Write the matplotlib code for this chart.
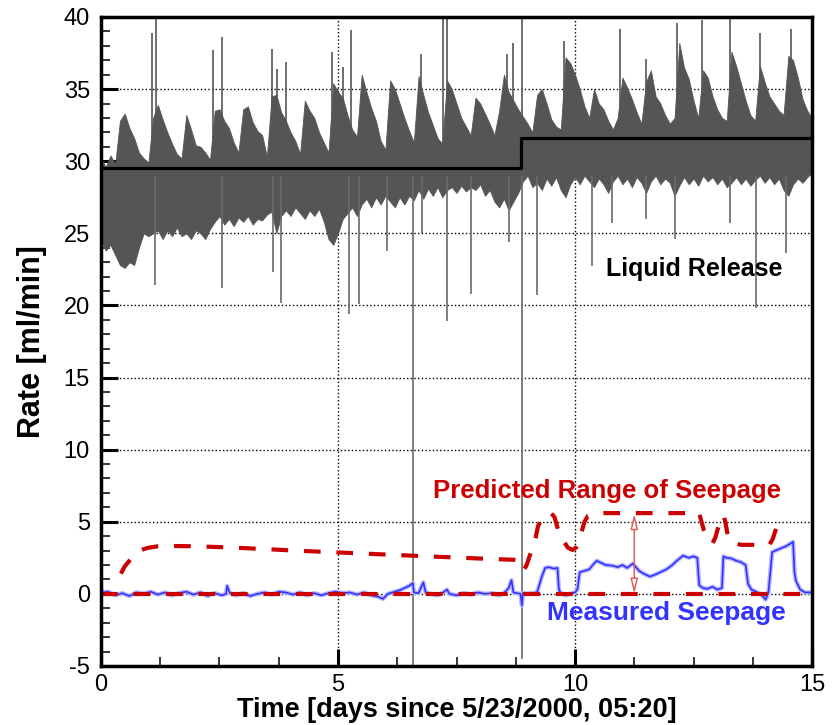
import numpy as np
import matplotlib
matplotlib.use('Agg')
import matplotlib.pyplot as plt
from matplotlib.ticker import MultipleLocator

plt.rcParams['font.family'] = ['Liberation Sans', 'DejaVu Sans']
plt.rcParams['axes.unicode_minus'] = False

# liquid release band, every 0.1 day (upper / lower edge)
band_t = [round(0.1 * i, 1) for i in range(151)]
band_hi = [30.2, 29.6, 30.4, 29.8, 32.8, 33.3, 32.3, 31.6, 30.6, 30.2,
           29.9, 33.0, 33.9, 32.9, 32.0, 31.2, 30.5, 30.2, 33.2, 32.2,
           31.1, 31.0, 30.6, 30.1, 33.5, 33.6, 32.8, 32.3, 31.3, 30.6,
           33.6, 33.8, 32.7, 32.1, 31.8, 30.3, 34.5, 34.6, 33.4, 32.8,
           32.0, 31.4, 30.5, 34.2, 33.5, 33.0, 32.0, 31.3, 30.6, 35.4,
           34.8, 34.4, 33.2, 32.2, 31.7, 36.0, 34.8, 33.7, 32.8, 31.4,
           30.8, 35.6, 35.0, 34.0, 33.0, 32.1, 31.3, 35.9, 34.6, 33.4,
           32.5, 31.6, 31.2, 35.6, 35.0, 34.0, 33.0, 32.4, 31.8, 34.4,
           34.0, 33.3, 32.6, 31.8, 33.5, 36.0, 34.8, 34.2, 33.6, 33.1,
           32.6, 32.0, 34.6, 35.0, 34.0, 32.9, 32.4, 32.2, 37.2, 36.8,
           36.0, 35.0, 33.8, 33.0, 35.0, 34.0, 33.6, 32.8, 32.2, 33.0,
           35.8, 35.1, 34.3, 33.4, 32.6, 35.5, 36.3, 34.5, 34.0, 33.2,
           32.6, 33.0, 38.2, 36.5, 35.7, 34.2, 33.0, 36.3, 35.8, 34.5,
           33.6, 33.0, 32.8, 37.6, 36.6, 35.4, 34.2, 33.2, 32.8, 36.6,
           35.5, 34.5, 34.0, 33.5, 33.2, 37.3, 37.0, 35.8, 34.3, 33.5,
           33.0]
band_lo = [24.5, 23.8, 24.2, 23.5, 22.8, 22.6, 23.0, 22.8, 24.0, 25.0,
           24.8, 25.0, 25.2, 24.6, 25.2, 24.8, 25.4, 24.8, 25.0, 24.6,
           25.2, 25.0, 24.6, 25.3, 25.8, 26.2, 25.6, 26.0, 25.5, 26.1,
           25.8, 26.2, 25.6, 26.0, 25.9, 26.3, 26.5, 25.0, 26.2, 26.6,
           26.2, 26.8, 26.4, 26.0, 26.6, 26.2, 26.7, 25.8, 24.6, 24.2,
           25.0, 26.0, 26.4, 26.8, 26.2, 27.0, 27.4, 26.8, 27.5, 27.0,
           27.6, 27.2, 26.8, 27.5, 27.0, 27.6, 27.3, 28.0, 27.4, 28.1,
           27.6, 28.2, 27.5, 28.0, 28.2, 27.8, 28.3, 27.9, 28.2, 28.0,
           28.4, 27.6, 28.0, 27.2, 26.8, 27.4, 26.6, 27.2, 27.8, 28.6,
           29.0, 28.2, 28.5, 28.0, 28.8, 28.3, 28.9, 28.0, 27.5, 28.4,
           28.9, 28.4, 29.0, 28.6, 28.2, 28.8, 28.4, 27.8, 28.6, 29.0,
           28.4, 28.8, 28.2, 28.9, 28.5, 27.8, 28.6, 29.0, 28.4, 28.8,
           28.5, 27.6, 28.3, 28.9, 28.4, 28.8, 28.3, 29.0, 28.6, 28.9,
           28.4, 28.8, 28.2, 28.5, 28.9, 28.4, 28.8, 28.3, 28.7, 29.0,
           28.5, 28.9, 28.4, 28.8, 28.0, 27.6, 28.4, 28.8, 28.5, 28.9,
           29.2]

# single spikes of the release record
up_t = [1.08, 1.16, 2.36, 2.56, 3.60, 3.72, 3.90, 4.87, 5.10, 5.27, 6.76, 7.22,
        7.29, 8.57, 8.69, 8.88, 9.77, 10.94, 11.50, 12.15, 12.68, 13.28, 13.91, 14.55]
up_y = [38.9, 40.0, 37.7, 38.6, 37.8, 36.4, 36.9, 37.6, 36.5, 39.1, 37.4, 40.0,
        40.0, 37.4, 38.2, 40.0, 38.3, 39.2, 37.1, 39.6, 39.8, 40.0, 38.9, 39.2]
down_t = [1.15, 2.56, 3.62, 3.80, 5.24, 5.44, 6.03, 6.59, 6.78, 7.29, 7.80, 8.60,
          8.88, 9.20, 10.35, 10.77, 11.49, 12.11, 13.27, 13.81, 14.46]
down_y = [21.4, 21.2, 22.3, 20.2, 19.4, 20.1, 23.8, -5.0, 25.0, 18.9, 20.8, 24.4,
          -4.5, 20.7, 22.7, 25.7, 26.0, 24.6, 25.7, 19.8, 23.6]

# nominal release rate (step)
release_t = [0.0, 8.87, 15.0]
release_rate = [29.5, 31.6, 31.6]

# predicted range of seepage, upper bound (lower bound is 0)
pred_t = [0.42, 0.5, 0.6, 0.7, 0.8, 0.9, 1.0, 1.2, 1.5, 2.0, 2.7, 3.5, 4.1, 4.8,
          5.5, 6.2, 6.9, 7.5, 8.2, 8.85, 8.9, 8.93, 8.98, 9.05, 9.12, 9.17, 9.22,
          9.3, 9.4, 9.5, 9.57, 9.62, 9.68, 9.75, 9.85, 9.95, 10.02, 10.08, 10.14,
          10.2, 10.27, 10.4, 10.6, 12.62, 12.66, 12.72, 12.8, 12.9, 12.96, 13.02,
          13.08, 13.13, 13.17, 13.22, 13.28, 13.5, 14.1, 14.17, 14.24, 14.3, 14.37]
pred_hi = [1.4, 1.9, 2.3, 2.7, 2.95, 3.1, 3.2, 3.3, 3.32, 3.3, 3.22, 3.1, 3.0, 2.9,
           2.8, 2.7, 2.6, 2.52, 2.42, 2.35, 2.0, 1.7, 2.0, 2.7, 3.3, 3.9, 4.7,
           5.2, 5.5, 5.6, 5.3, 4.7, 4.1, 3.7, 3.2, 3.05, 3.2, 3.6, 4.3,
           5.0, 5.4, 5.55, 5.6, 5.6, 5.1, 4.4, 3.85, 3.5, 3.9, 4.6,
           5.2, 5.45, 5.0, 4.1, 3.6, 3.4, 3.4, 3.8, 4.5, 5.1, 5.5]
pred_lo_t = [0.0, 15.0]
pred_lo = [0.0, 0.0]

# measured seepage
seep_t = [0.0, 0.05, 0.15, 0.3, 0.45, 0.6, 0.75, 0.9, 1.05, 1.2, 1.35, 1.5, 1.65,
          1.8, 1.95, 2.1, 2.25, 2.4, 2.55, 2.64, 2.66, 2.72, 2.85, 3.0, 3.15, 3.3,
          3.45, 3.6, 3.75, 3.9, 4.05, 4.2, 4.35, 4.5, 4.65, 4.8, 4.95, 5.1, 5.25,
          5.4, 5.55, 5.7, 5.85, 5.95, 6.05, 6.2, 6.3, 6.4, 6.5, 6.58, 6.6, 6.7,
          6.8, 6.85, 6.95, 7.1, 7.2, 7.3, 7.35, 7.5, 7.65, 7.8, 7.95, 8.1, 8.25,
          8.4, 8.5, 8.6, 8.66, 8.7, 8.85, 8.88, 8.9, 9.0, 9.1, 9.2, 9.3, 9.37,
          9.45, 9.55, 9.63, 9.66, 9.7, 9.8, 9.9, 10.0, 10.05, 10.1, 10.2, 10.3,
          10.4, 10.46, 10.55, 10.65, 10.8, 10.9, 11.0, 11.1, 11.22, 11.35, 11.45,
          11.58, 11.7, 11.8, 11.93, 12.05, 12.15, 12.28, 12.4, 12.5, 12.58, 12.62,
          12.7, 12.8, 12.9, 13.0, 13.1, 13.13, 13.2, 13.3, 13.4, 13.5, 13.6, 13.65,
          13.72, 13.85, 13.95, 14.02, 14.08, 14.12, 14.16, 14.3, 14.45, 14.6,
          14.63, 14.66, 14.75, 14.85, 15.0]
seep_rate = [0.3, 0.1, 0.15, -0.1, 0.05, -0.15, 0.1, 0.0, 0.15, -0.05, 0.1, -0.1, 0.05,
             0.15, -0.05, 0.1, -0.15, 0.05, -0.1, 0.0, 0.55, 0.05, -0.1, 0.05, -0.15, 0.0,
             0.1, -0.05, 0.15, 0.1, -0.05, 0.1, -0.1, 0.05, -0.1, 0.05, 0.15, 0.05, 0.1,
             -0.05, 0.1, -0.1, -0.2, -0.35, 0.0, 0.15, 0.25, 0.4, 0.55, 0.75, 0.1, 0.05,
             0.8, 0.1, 0.0, -0.1, 0.05, 0.3, 0.0, -0.1, 0.05, -0.05, 0.1, 0.0, 0.05,
             -0.1, 0.05, 0.4, 0.95, 0.1, 0.0, -0.8, 0.05, 0.0, 0.05, 0.1, 1.2, 1.8,
             1.85, 1.75, 1.8, 0.3, 0.05, -0.1, 0.0, 0.1, 0.3, 1.5, 1.6, 1.7,
             2.1, 2.3, 2.15, 2.0, 1.95, 1.85, 2.0, 1.8, 2.1, 1.6, 1.4,
             1.2, 1.35, 1.5, 1.7, 2.0, 2.3, 2.65, 2.5, 2.6, 2.5, 0.6,
             0.4, 0.35, 0.5, 0.3, 0.4, 2.6, 2.5, 2.45, 2.3, 2.2, 2.0, 0.7,
             0.3, 0.1, -0.1, -0.4, 0.1, 1.5, 2.9, 3.1, 3.3, 3.6,
             1.5, 0.9, 0.3, 0.1, 0.1]

gray = '#555555'
red = '#cc0000'
blue = '#3333ff'

fig = plt.figure(figsize=(8.38, 7.25), dpi=100)
ax = fig.add_axes([0.1205, 0.0814, 0.8485, 0.8952])

ax.fill_between(band_t, band_lo, band_hi, color=gray, lw=0.6, edgecolor=gray, zorder=2)
ax.vlines(up_t, 30, up_y, color=gray, lw=1.2, zorder=2)
ax.vlines(down_t, 29, down_y, color='#6a6a6a', lw=1.2, zorder=2)

ax.plot(release_t, release_rate, drawstyle='steps-post', color='k', lw=2.3, zorder=3)

ax.plot(seep_t, seep_rate, color='#b8b8ff', lw=3.2, zorder=4)
ax.plot(seep_t, seep_rate, color=blue, lw=1.2, zorder=4)

ax.plot(pred_t, pred_hi, color=red, lw=3, dashes=(4, 3.8), zorder=5)
ax.plot(pred_lo_t, pred_lo, color=red, lw=3, dashes=(4, 3.8), zorder=5)

ax.annotate('', xy=(11.25, 5.55), xytext=(11.25, 0.0),
            arrowprops=dict(arrowstyle='<|-|>,head_length=0.9,head_width=0.22',
                            color='#e06060', fc='white', lw=1.1, shrinkA=0, shrinkB=0),
            zorder=6)

ax.text(12.51, 22.5, 'Liquid Release', fontsize=18, fontweight='bold',
        ha='center', va='center', color='k', zorder=7)
ax.text(10.68, 7.1, 'Predicted Range of Seepage', fontsize=18.5, fontweight='bold',
        ha='center', va='center', color=red, zorder=7)
ax.text(11.92, -1.35, 'Measured Seepage', fontsize=19, fontweight='bold',
        ha='center', va='center', color=blue, zorder=7)

ax.set_xlim(0, 15)
ax.set_ylim(-5, 40)
ax.xaxis.set_major_locator(MultipleLocator(5))
ax.xaxis.set_minor_locator(MultipleLocator(1.25))
ax.yaxis.set_major_locator(MultipleLocator(5))
ax.yaxis.set_minor_locator(MultipleLocator(1))
ax.tick_params(which='major', direction='in', length=12, width=2.2, labelsize=17, pad=8)
ax.tick_params(axis='x', which='major', pad=6)
ax.tick_params(which='minor', direction='in', length=6.5, width=1.1)
ax.grid(True, which='major', ls=':', color='k', lw=1, zorder=1)
ax.set_axisbelow(True)
for s in ax.spines.values():
    s.set_linewidth(2.5)
    s.set_zorder(8)

ax.set_xlabel('Time [days since 5/23/2000, 05:20]', fontsize=19.5, fontweight='bold',
              va='bottom')
ax.set_ylabel('Rate [ml/min]', fontsize=22, fontweight='bold')
ax.xaxis.set_label_coords(0.5 * (0.1205 + 0.969), 0.003, transform=fig.transFigure)
ax.yaxis.set_label_coords(-0.076, 0.5)

fig.savefig('out.png', dpi=100)
